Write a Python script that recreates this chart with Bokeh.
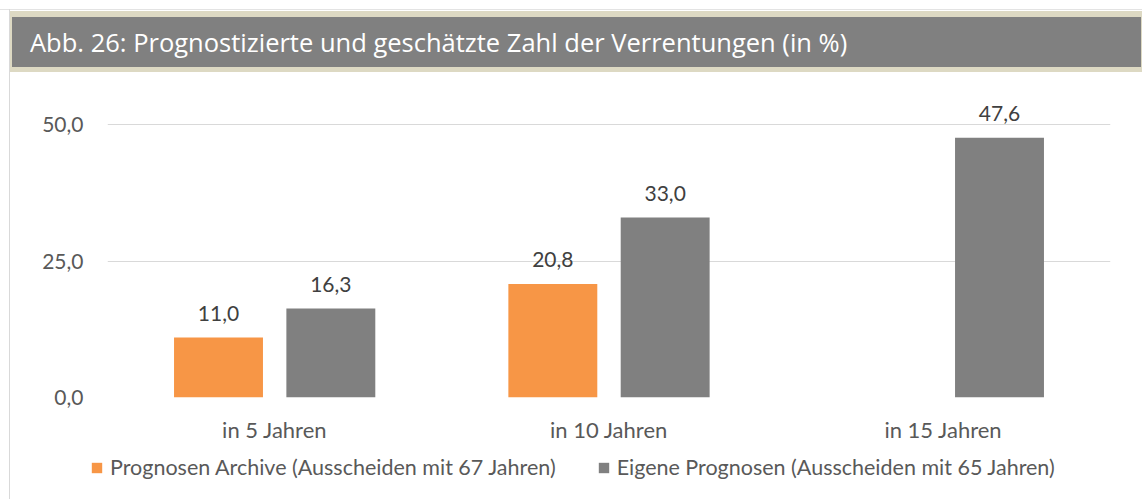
from bokeh.plotting import figure
from bokeh.models import (ColumnDataSource, FactorRange, Range1d, FixedTicker,
                          Legend, LegendItem, Div)
from bokeh.transform import dodge
from bokeh.layouts import column, row
from bokeh.core.properties import value
from bokeh.embed import file_html
from bokeh.resources import INLINE

# ---- data ----
categories = ["in 5 Jahren", "in 10 Jahren", "in 15 Jahren"]
archive = [11.0, 20.8, None]
eigene = [16.3, 33.0, 47.6]
series_names = ["Prognosen Archive (Ausscheiden mit 67 Jahren)",
                "Eigene Prognosen (Ausscheiden mit 65 Jahren)"]
y_ticks = [0, 25, 50]
y_tick_labels = ["0,0", "25,0", "50,0"]
title_text = "Abb. 26: Prognostizierte und geschätzte Zahl der Verrentungen (in %)"

ORANGE = "#F79646"
GRAY = "#808080"
FONT = "Lato"


def fmt(v):
    return f"{v:.1f}".replace(".", ",")


def make_source(vals):
    cats = [c for c, v in zip(categories, vals) if v is not None]
    vs = [v for v in vals if v is not None]
    return ColumnDataSource(dict(cat=cats, val=vs, lab=[fmt(v) for v in vs]))


src_a = make_source(archive)
src_e = make_source(eigene)

p = figure(x_range=FactorRange(*categories), y_range=Range1d(0, 59),
           width=1132, height=373, output_backend="svg", toolbar_location=None,
           min_border_left=97, min_border_right=32, min_border_top=3,
           min_border_bottom=48, outline_line_color=None,
           background_fill_color="white", border_fill_color="white")

OFF = 0.168
W = 0.266
p.vbar(x=dodge("cat", -OFF, range=p.x_range), top="val", width=W,
       source=src_a, fill_color=ORANGE, line_color=None)
p.vbar(x=dodge("cat", OFF, range=p.x_range), top="val", width=W,
       source=src_e, fill_color=GRAY, line_color=None)

for src, off in ((src_a, -OFF), (src_e, OFF)):
    p.text(x=dodge("cat", off, range=p.x_range), y="val", text="lab", source=src,
           text_align="center", text_baseline="alphabetic", y_offset=-24,
           text_font=value(FONT), text_font_size="21px", text_color="#404040")

# axes
p.xaxis.axis_line_color = None
p.xaxis.major_tick_line_color = None
p.xaxis.minor_tick_line_color = None
p.xaxis.major_tick_out = 0
p.xaxis.major_tick_in = 0
p.xaxis.major_label_text_font = FONT
p.xaxis.major_label_text_font_size = "22px"
p.xaxis.major_label_text_color = "#595959"
p.xaxis.major_label_standoff = 18
p.xgrid.grid_line_color = None

ticker = FixedTicker(ticks=y_ticks)
p.yaxis.ticker = ticker
p.yaxis.major_label_overrides = dict(zip(y_ticks, y_tick_labels))
p.yaxis.axis_line_color = None
p.yaxis.major_tick_line_color = None
p.yaxis.minor_tick_line_color = None
p.yaxis.major_tick_out = 0
p.yaxis.major_tick_in = 0
p.yaxis.major_label_text_font = FONT
p.yaxis.major_label_text_font_size = "21px"
p.yaxis.major_label_text_color = "#595959"
p.yaxis.major_label_standoff = 24
p.ygrid.grid_line_color = "#d9d9d9"
p.ygrid.grid_line_width = 1

# legend strip: a separate figure sharing the x range; its y window lies above
# the data, so its bars stay out of view and only serve as legend swatches
pl = figure(x_range=p.x_range, y_range=Range1d(100, 101), width=1132, height=54,
            output_backend="svg", toolbar_location=None, min_border=0,
            x_axis_location=None, y_axis_location=None,
            outline_line_color=None, background_fill_color="white",
            border_fill_color="white")
pl.frame_align = False
pl.grid.visible = False
leg_a = pl.vbar(x=dodge("cat", -OFF, range=pl.x_range), top="val", width=W,
                source=src_a, fill_color=ORANGE, line_color=None)
leg_e = pl.vbar(x=dodge("cat", OFF, range=pl.x_range), top="val", width=W,
                source=src_e, fill_color=GRAY, line_color=None)
legend = Legend(items=[LegendItem(label=series_names[0], renderers=[leg_a]),
                       LegendItem(label=series_names[1], renderers=[leg_e])],
                orientation="horizontal", location=(80, 19),
                border_line_color=None, background_fill_alpha=0,
                glyph_width=13, glyph_height=13, label_standoff=7, spacing=41,
                padding=0, margin=0,
                label_text_font=FONT, label_text_font_size="21.5px",
                label_text_color="#595959")
pl.add_layout(legend, "center")

title_html = (
    '<div style="position:relative;width:1142px;height:72px;">'
    '<div style="position:absolute;left:0;top:9px;width:1142px;height:1px;'
    'background:#e3e3e3;"></div>'
    '<div style="position:absolute;left:9px;top:9px;width:1px;height:63px;'
    'background:#d9d9d9;"></div>'
    '<div style="position:absolute;left:10px;top:11px;width:1132px;height:61px;'
    'box-sizing:border-box;background:#808080;border-style:solid;'
    'border-color:#ddd9c3;border-width:6px 1px 5px 2px;color:#ffffff;'
    'font-family:\'Open Sans\';font-size:25.5px;padding-left:18px;display:flex;'
    'align-items:center;white-space:nowrap;">' + title_text + '</div>'
    '</div>'
)
title_div = Div(text=title_html, width=1142, height=72, margin=0)
left_line = Div(text='<div style="margin-left:9px;width:1px;height:427px;'
                     'background:#d9d9d9;"></div>',
                width=10, height=427, margin=0)

layout = column(title_div, row(left_line, column(p, pl)))

open("out.html", "w").write(file_html(layout, INLINE))
